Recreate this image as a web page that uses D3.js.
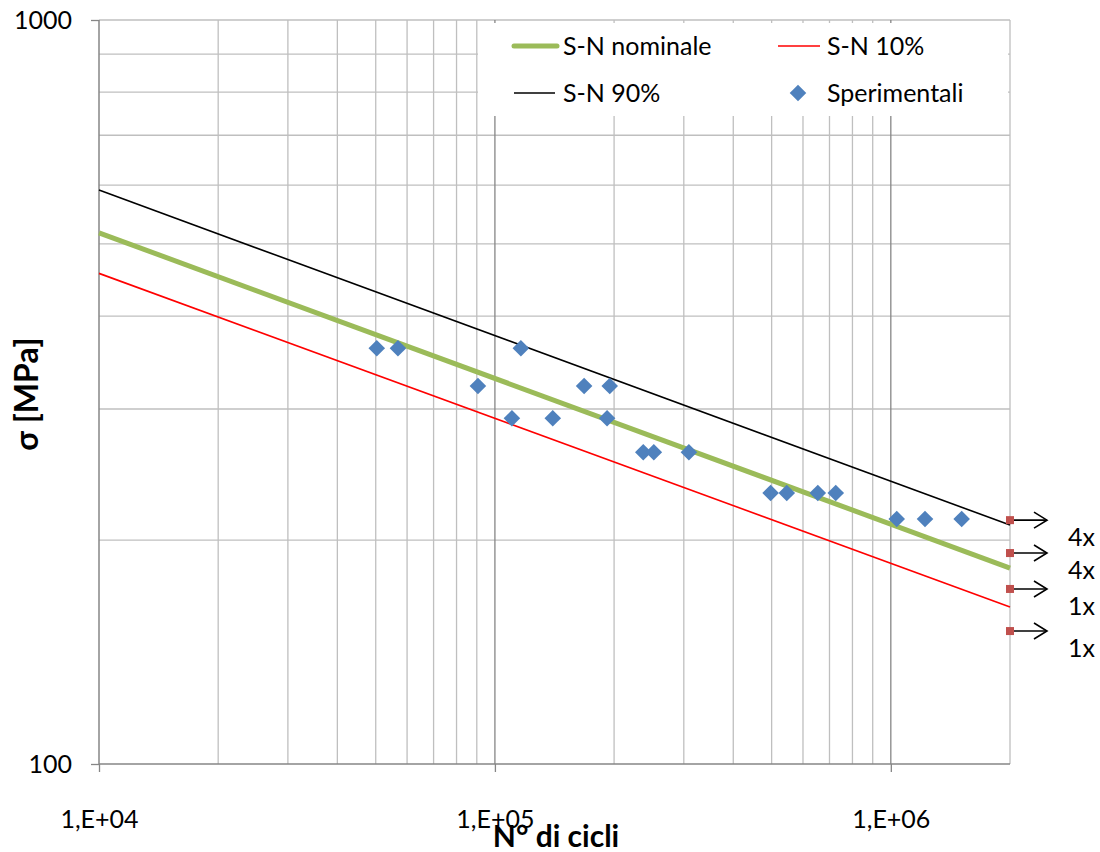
<!DOCTYPE html>
<html>
<head>
<meta charset="utf-8">
<script src="https://cdn.jsdelivr.net/npm/d3@7/dist/d3.min.js"></script>
<style>
  html, body { margin: 0; padding: 0; background: #fff; }
  svg { display: block; font-family: Lato, "Open Sans", "DejaVu Sans", sans-serif; }
</style>
</head>
<body>
<svg id="chart" width="1100" height="852"></svg>
<script>
// ---- Data ----
const curveN = [1e4, 2e6];
const snNominale = [517.6, 183.4];
const sn10 = [456.5, 162.6];
const sn90 = [590.8, 209.5];

const expN = [50300, 56900, 90600, 110400, 116300, 140000, 168000, 192000, 195000,
              237000, 252000, 309000, 497000, 546000, 654000, 726000, 1035000, 1220000, 1510000];
const expS = [362, 362, 322.2, 291.5, 362, 291.5, 322.2, 291.5, 322.2,
              262.4, 262.4, 262.4, 231.4, 231.4, 231.4, 231.4, 213.5, 213.5, 213.5];

const runoutN = 2e6;
const runoutS = [212.7, 192.1, 171.9, 150.9];
const runoutLabels = ["4x", "4x", "1x", "1x"];

const xTicks = [1e4, 1e5, 1e6];
const yTicks = [100, 1000];
const xGridMinor = [2e4,3e4,4e4,5e4,6e4,7e4,8e4,9e4,2e5,3e5,4e5,5e5,6e5,7e5,8e5,9e5,2e6];
const xGridMajor = [1e5, 1e6];
const yGrid = [200,300,400,500,600,700,800,900];

// ---- Layout ----
const L = 99, R = 1010, T = 20, B = 764;
const svg = d3.select("#chart");
const x = d3.scaleLog().domain([1e4, 2e6]).range([L, R]);
const y = d3.scaleLog().domain([100, 1000]).range([B, T]);

const minorCol = "#bfbfbf", majorCol = "#868686";

// grid
const g = svg.append("g");
g.selectAll(".hg").data(yGrid).enter().append("line")
  .attr("x1", L).attr("x2", R).attr("y1", d => y(d)).attr("y2", d => y(d))
  .attr("stroke", minorCol).attr("stroke-width", 1.3);
g.append("line").attr("x1", L).attr("x2", R).attr("y1", y(1000)).attr("y2", y(1000))
  .attr("stroke", minorCol).attr("stroke-width", 1.5);
g.selectAll(".vg").data(xGridMinor).enter().append("line")
  .attr("x1", d => x(d)).attr("x2", d => x(d)).attr("y1", T).attr("y2", B)
  .attr("stroke", minorCol).attr("stroke-width", 1.3);
g.selectAll(".vgm").data(xGridMajor).enter().append("line")
  .attr("x1", d => x(d)).attr("x2", d => x(d)).attr("y1", T).attr("y2", B)
  .attr("stroke", majorCol).attr("stroke-width", 1.3);

// axes
const xAxis = d3.axisBottom(x).tickValues(xTicks).tickSize(8).tickPadding(38)
  .tickFormat(d => "1,E+0" + Math.round(Math.log10(d)));
const gx = svg.append("g").attr("transform", `translate(0,${B})`).call(xAxis);
gx.select(".domain").attr("stroke", majorCol).attr("stroke-width", 1.5)
  .attr("d", `M${L},0H${R}`);
gx.selectAll(".tick line").attr("stroke", majorCol).attr("stroke-width", 1.3);
gx.selectAll(".tick text").attr("font-size", 25).attr("fill", "#000")
  .attr("font-family", "Lato, 'Open Sans', sans-serif");

const yAxis = d3.axisLeft(y).tickValues(yTicks).tickSize(8).tickPadding(19)
  .tickFormat(d3.format("d"));
const gy = svg.append("g").attr("transform", `translate(${L},0)`).call(yAxis);
gy.select(".domain").attr("stroke", majorCol).attr("stroke-width", 1.5)
  .attr("d", `M0,${T}V${B}`);
gy.selectAll(".tick line").attr("stroke", majorCol).attr("stroke-width", 1.3);
gy.selectAll(".tick text").attr("font-size", 25).attr("fill", "#000")
  .attr("font-family", "Lato, 'Open Sans', sans-serif");

// legend background (covers grid)
svg.append("rect").attr("x", 478).attr("y", 23).attr("width", 530).attr("height", 93)
  .attr("fill", "#fff");

// curves
const line = d3.line().x(d => x(d[0])).y(d => y(d[1]));
const mk = arr => curveN.map((n, i) => [n, arr[i]]);
svg.append("path").datum(mk(sn10)).attr("d", line).attr("fill", "none")
  .attr("stroke", "#ff0000").attr("stroke-width", 1.6);
svg.append("path").datum(mk(sn90)).attr("d", line).attr("fill", "none")
  .attr("stroke", "#000").attr("stroke-width", 1.6);
svg.append("path").datum(mk(snNominale)).attr("d", line).attr("fill", "none")
  .attr("stroke", "#9bbb59").attr("stroke-width", 5);

// runout arrows
const ro = svg.append("g");
runoutS.forEach((s, i) => {
  const yy = y(s), x0 = x(runoutN);
  ro.append("line").attr("x1", x0).attr("x2", x0 + 37).attr("y1", yy).attr("y2", yy)
    .attr("stroke", "#000").attr("stroke-width", 1.6);
  ro.append("path").attr("d", `M${x0 + 24},${yy - 8}L${x0 + 37},${yy}L${x0 + 24},${yy + 8}`)
    .attr("fill", "none").attr("stroke", "#000").attr("stroke-width", 1.6);
  ro.append("rect").attr("x", x0 - 4).attr("y", yy - 4).attr("width", 8).attr("height", 8)
    .attr("fill", "#c0504d");
  ro.append("text").attr("x", x0 + 58).attr("y", yy + 17).attr("dy", "0.35em")
    .attr("font-size", 25).attr("fill", "#000").text(runoutLabels[i]);
});

// experimental diamonds
const diamond = d3.symbol().type(d3.symbolDiamond2).size(175);
svg.append("g").selectAll("path").data(expN.map((n, i) => [n, expS[i]])).enter()
  .append("path").attr("d", diamond)
  .attr("transform", d => `translate(${x(d[0])},${y(d[1])})`)
  .attr("fill", "#4f81bd");

// legend
const lg = svg.append("g").attr("font-size", 25).attr("fill", "#000");
lg.append("line").attr("x1", 514).attr("x2", 557).attr("y1", 46).attr("y2", 46)
  .attr("stroke", "#9bbb59").attr("stroke-width", 5).attr("stroke-linecap", "round");
lg.append("text").attr("x", 563).attr("y", 46).attr("dy", "0.35em").text("S-N nominale");
lg.append("line").attr("x1", 778).attr("x2", 820).attr("y1", 46).attr("y2", 46)
  .attr("stroke", "#ff0000").attr("stroke-width", 1.6);
lg.append("text").attr("x", 827).attr("y", 46).attr("dy", "0.35em").text("S-N 10%");
lg.append("line").attr("x1", 514).attr("x2", 555).attr("y1", 93).attr("y2", 93)
  .attr("stroke", "#000").attr("stroke-width", 1.6);
lg.append("text").attr("x", 563).attr("y", 93).attr("dy", "0.35em").text("S-N 90%");
lg.append("path").attr("d", diamond).attr("transform", "translate(798,93)").attr("fill", "#4f81bd");
lg.append("text").attr("x", 827).attr("y", 93).attr("dy", "0.35em").text("Sperimentali");

// axis titles
svg.append("text").attr("transform", "translate(38,394) rotate(-90)")
  .attr("text-anchor", "middle").attr("font-size", 32).attr("font-weight", "bold")
  .attr("fill", "#000").text("σ [MPa]");
svg.append("text").attr("x", 556).attr("y", 847).attr("text-anchor", "middle")
  .attr("font-size", 30).attr("font-weight", "bold").attr("fill", "#000")
  .text("N° di cicli");
</script>
</body>
</html>
